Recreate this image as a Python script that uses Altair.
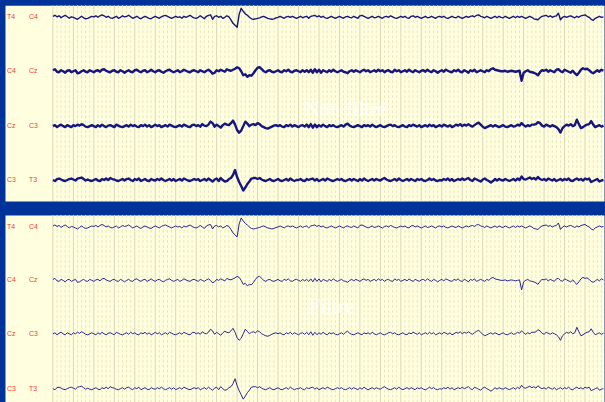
import altair as alt
import numpy as np
import pandas as pd

# Bipolar montage, right to left across the vertex
CHANNELS = ["T4-C4", "C4-Cz", "Cz-C3", "C3-T3"]
ELECTRODE_A = ["T4", "C4", "Cz", "C3"]
ELECTRODE_B = ["C4", "Cz", "C3", "T3"]
PANEL_TITLES = ["Non filtré", "Filtré"]

SAMPLE_STEP_S = 0.1  # one value every 100 ms

# Pen deflection per sample, in half-pixel units (positive = upward)
T4_C4 = [
    2, 4, 1, 3, -1, 2, 4, 1, -2, 1,
    0, -2, -4, -1, 2, -1, -3, -2, 0, 2,
    1, 3, 0, 3, 5, 3, 0, 2, -1, -2,
    0, 2, -2, 0, 3, 1, 2, 4, 1, -2,
    0, 2, -1, -3, 0, 2, 0, -2, -3, 0,
    2, 0, -2, 1, 3, 4, 2, 0, -2, 0,
    2, 0, 1, -2, 2, 0, 2, 4, 1, -1,
    -2, 0, 3, 0, -3, 2, 4, 5, -4, 2,
    3, 0, 2, -2, 0, 3, 1, -5, -12, -16,
    -20, 6, 18, 12, 7, 4, 0, -3, -4, -3,
    -2, -1, 1, 2, 0, -2, -3, -4, -3, -1,
    0, 2, 0, -2, 1, 2, 0, 2, 0, -2,
    0, 2, -1, 1, 2, -2, 2, 3, 4, 1,
    3, 0, 2, -1, -2, 0, 2, 0, -2, 0,
    2, 0, -2, 1, 2, 0, -1, 2, 0, -2,
    3, 4, 2, 0, -2, 0, 2, -1, 0, 2,
    0, -2, 1, 2, 0, 3, 1, -1, -2, 0,
    2, 0, 2, -1, -2, 2, 3, 0, 2, 0,
    -2, 0, 2, -1, 0, 2, 0, -2, 1, 2,
    0, 2, -1, -2, 0, 2, 0, -1, 2, 0,
    -2, 0, 2, 0, 2, 3, 1, 4, 5, 2,
    1, -1, 2, 0, -2, 0, 2, -1, 2, 0,
    -1, 2, 0, -2, 0, 2, -1, 2, 0, 2,
    0, -2, 0, 2, 0, -3, -4, -5, -1, 2,
    3, 4, 1, 3, 0, 2, 3, 8, -5, 0,
    2, 0, 2, 3, 1, -1, 2, 0, 3, 4,
    5, 2, 0, -4, -6, -2, 0, 2, 0, 1,
]

C4_CZ = [
    2, 4, -1, -2, 2, 0, -3, 1, 2, -2,
    0, 2, -4, -3, 0, 2, -1, -2, 2, 0,
    -2, 1, 2, -1, 3, 4, 1, -1, -2, 1,
    2, -1, -2, 2, 0, -3, 0, 2, -1, -2,
    2, 3, 0, -2, 1, 2, -2, 0, 3, 0,
    -2, 1, 2, -1, -3, 0, 2, 3, 0, -2,
    0, 2, -2, 0, 3, 1, -1, -2, 1, 2,
    0, -2, 2, 0, -2, 1, 3, 0, -5, -3,
    2, 0, 3, 1, -1, 4, 2, 1, 3, 5,
    8, 6, 0, -8, -6, -11, -8, -9, -4, 2,
    7, 8, 4, 0, -2, 1, 2, -1, -2, 0,
    2, -1, -2, 2, 0, 3, -1, -2, 1, 2,
    0, -2, 2, -1, 2, -2, 3, -3, 4, -2,
    3, -3, 2, 0, -2, 2, -1, 3, 0, -2,
    0, 2, -1, -2, -4, 0, 2, -1, 2, 0,
    -2, 1, 3, 0, 2, -2, 0, 2, -1, 3,
    0, 2, -2, 1, 2, -1, -2, 3, 0, 2,
    -2, 0, 2, -1, 3, 0, -2, 2, 0, -2,
    1, 2, -1, 3, 0, -2, 2, 0, -3, 0,
    2, -1, 3, 1, -1, -2, 2, 0, 3, -1,
    -2, 2, 0, -3, 2, 0, 3, -2, 0, 2,
    0, -2, 2, 0, 4, 6, 3, 2, 1, 0,
    0, 1, -1, 0, 1, 0, -1, 0, 1, -19,
    -3, 0, 2, -1, -2, -3, -5, -8, -2, 2,
    1, 3, -1, 2, 0, -2, 3, 4, 0, -2,
    3, 1, -1, -3, 1, -4, -8, -3, 3, 6,
    4, 5, 2, -2, -4, -1, 2, -1, 3, 1,
]

CZ_C3 = [
    0, 2, -2, 1, 3, 0, -2, 2, 0, -2,
    2, 0, 3, 1, 4, 2, -1, -2, 0, 2,
    0, -2, 2, -1, 3, 0, -2, 1, 2, 0,
    -2, 3, 1, -1, -2, 0, 2, -1, 3, 0,
    2, -1, -2, 2, 0, 3, -1, 2, -2, 0,
    3, 0, 2, -2, 0, 2, -1, 3, 1, -1,
    -2, 0, 2, -1, 3, 1, -1, -2, 2, 3,
    0, 2, -1, 4, 1, 0, 3, 9, 6, -1,
    3, 0, -3, 2, 5, 3, 2, 6, 11, 3,
    -8, -13, -9, 0, 9, 5, 0, 3, 4, 2,
    6, 4, 0, -2, -4, -5, -3, -1, 1, 2,
    0, 2, -1, -2, 2, 0, 3, -1, 2, 0,
    -2, 1, 2, -1, 3, -2, 4, -3, 3, -2,
    2, -1, 3, 0, -2, 2, 0, 2, -1, -2,
    0, 2, -1, 3, 5, 1, -1, -2, 0, 2,
    0, -2, 2, 0, 2, -1, 3, 0, -2, 0,
    2, -1, -2, 0, 2, 3, 0, 2, -1, -2,
    0, 2, -1, -2, 2, 0, 3, 1, -1, 2,
    -2, 0, 2, -1, 3, 0, 2, -2, 0, 2,
    -1, 3, 1, -1, 2, -2, 0, 3, 1, 4,
    0, 3, 1, 4, 1, -1, 2, 5, 7, 3,
    -1, -4, -2, 0, 2, -1, 2, 0, -2, 0,
    2, -1, -2, 0, 2, -1, 0, 3, 1, 6,
    2, -1, 2, 0, 3, 3, 4, 8, 6, 1,
    -1, 3, 1, -1, 2, 0, -2, -6, -13, -4,
    0, 3, 1, 4, 0, 2, 13, 4, -4, -2,
    1, 3, 4, 10, 3, -2, 0, 2, -1, 1,
]

C3_T3 = [
    0, -2, 2, 3, 1, -1, -2, 0, 2, 3,
    1, -1, 3, 4, 5, 2, -1, 1, -1, -2,
    0, 2, -1, -2, 2, 0, 3, 0, 4, 2,
    1, -1, -2, 0, 2, -1, 2, 3, 0, -2,
    2, 0, 3, -2, 0, 2, -1, -2, 2, 0,
    -1, 2, 0, 3, 0, -2, 0, 2, -1, 2,
    -2, 0, 2, -1, 3, 1, -1, -2, 0, 2,
    0, 2, -2, 0, 2, -1, 3, 0, -3, 1,
    3, -2, 4, 0, -3, -2, 2, 4, 10, 20,
    6, -4, -12, -21, -15, -8, -3, 3, 4, 4,
    2, 4, 1, -1, -2, 0, 2, -1, -2, 0,
    2, -1, -2, 0, 2, -1, 3, 0, -2, 0,
    0, 2, -1, -2, 2, 0, 2, 3, -1, 2,
    -2, 0, 2, -1, 3, 1, -1, -2, 0, 2,
    0, 2, -1, -2, 0, 2, -1, 2, 0, -2,
    2, -1, 3, 0, -2, 0, 2, -1, 2, 0,
    -1, 2, 4, 1, -1, -2, 0, 2, -1, 3,
    0, -2, 0, 2, -1, 2, 0, -2, 2, 0,
    2, -1, -2, 0, 3, 0, 2, -1, -2, 0,
    -1, 2, 0, 3, -1, 2, -2, 0, 2, 0,
    3, 0, 2, 4, 0, -2, 3, 1, -1, -3,
    1, 3, 0, -2, -5, -2, 2, -1, 2, 0,
    -1, 2, 0, -2, 0, 2, -1, 3, 0, 7,
    2, 1, 3, 5, 2, 4, 1, 6, 2, 0,
    2, -1, 3, 1, -1, 2, -2, 0, 2, -1,
    2, 0, 3, -1, -2, 1, 3, 0, 2, -1,
    3, 1, 3, -4, -2, 0, 2, -3, -1, 0,
]

SIGNALS = [T4_C4, C4_CZ, CZ_C3, C3_T3]

# Page geometry
PANEL_WIDTH = 600
LABEL_GUTTER = 48          # room for the electrode names, left of t = 0
PX_PER_S = 20.5            # paper speed
X_DOMAIN = [-LABEL_GUTTER / PX_PER_S, (PANEL_WIDTH - LABEL_GUTTER) / PX_PER_S]

PAPER = "#ffffe0"
LABEL_RED = "#f23a3a"


def trace_panel(title, height, lanes, widths, color, title_xy):
    times = np.arange(len(SIGNALS[0])) * SAMPLE_STEP_S
    rows = []
    for ch, sig, lane in zip(CHANNELS, SIGNALS, lanes):
        for t, a in zip(times, sig):
            rows.append({"t": round(float(t), 2), "channel": ch, "y": lane - a / 2})
    traces = pd.DataFrame(rows)

    labels = pd.DataFrame({"a": ELECTRODE_A, "b": ELECTRODE_B, "y": lanes})
    minor_t = [round(v, 2) for v in np.arange(0, X_DOMAIN[1], 0.2) if abs(v - round(v)) > 1e-6]
    major_t = list(np.arange(0, X_DOMAIN[1], 1.0))

    xs = alt.Scale(domain=X_DOMAIN, nice=False, zero=False)
    ys = alt.Scale(domain=[0, height], reverse=True, nice=False, zero=False)
    x = alt.X("t:Q", scale=xs, axis=None)
    y = alt.Y("y:Q", scale=ys, axis=None)

    minor = alt.Chart(pd.DataFrame({"t": minor_t})).mark_rule(
        color="#e8e5c0", strokeWidth=1, strokeDash=[3, 2]
    ).encode(x=x)
    major = alt.Chart(pd.DataFrame({"t": major_t})).mark_rule(
        color="#d9d6b8", strokeWidth=1
    ).encode(x=x)

    caption = alt.Chart(pd.DataFrame({"title": [title]})).mark_text(
        font="Liberation Serif", fontSize=21, color="white", opacity=0.85,
        align="center", baseline="middle",
    ).encode(x=alt.value(title_xy[0]), y=alt.value(title_xy[1]), text="title:N")

    # one line layer per channel so each pen can have its own width
    pens = [
        alt.Chart(traces)
        .transform_filter(alt.datum.channel == ch)
        .mark_line(color=color, strokeWidth=w, strokeJoin="round")
        .encode(x=x, y=y)
        for ch, w in zip(CHANNELS, widths)
    ]

    name_a = alt.Chart(labels).mark_text(
        font="Liberation Sans", fontSize=7, color=LABEL_RED, align="left", baseline="middle"
    ).encode(x=alt.value(2), y=y, text="a:N")
    name_b = alt.Chart(labels).mark_text(
        font="Liberation Sans", fontSize=7, color=LABEL_RED, align="left", baseline="middle"
    ).encode(x=alt.value(24), y=y, text="b:N")

    return alt.layer(minor, major, caption, *pens, name_a, name_b).properties(
        width=PANEL_WIDTH, height=height
    )


raw = trace_panel(
    PANEL_TITLES[0], 196, [12, 66, 121, 175], [1.4, 2.4, 2.4, 2.4], "#16167c", (341, 105)
)
filtered = trace_panel(
    PANEL_TITLES[1], 190, [12, 65.5, 119, 174], [1.0, 1.0, 1.0, 1.0], "#26268e", (327, 92)
)

chart = (
    alt.vconcat(raw, filtered, spacing=12)
    .properties(padding={"left": 5, "top": 4, "right": 0, "bottom": 0})
    .configure(background="#00339a")
    .configure_view(fill=PAPER, strokeOpacity=0)
)

chart.save("out.html", embed_options={"renderer": "svg", "actions": False})
